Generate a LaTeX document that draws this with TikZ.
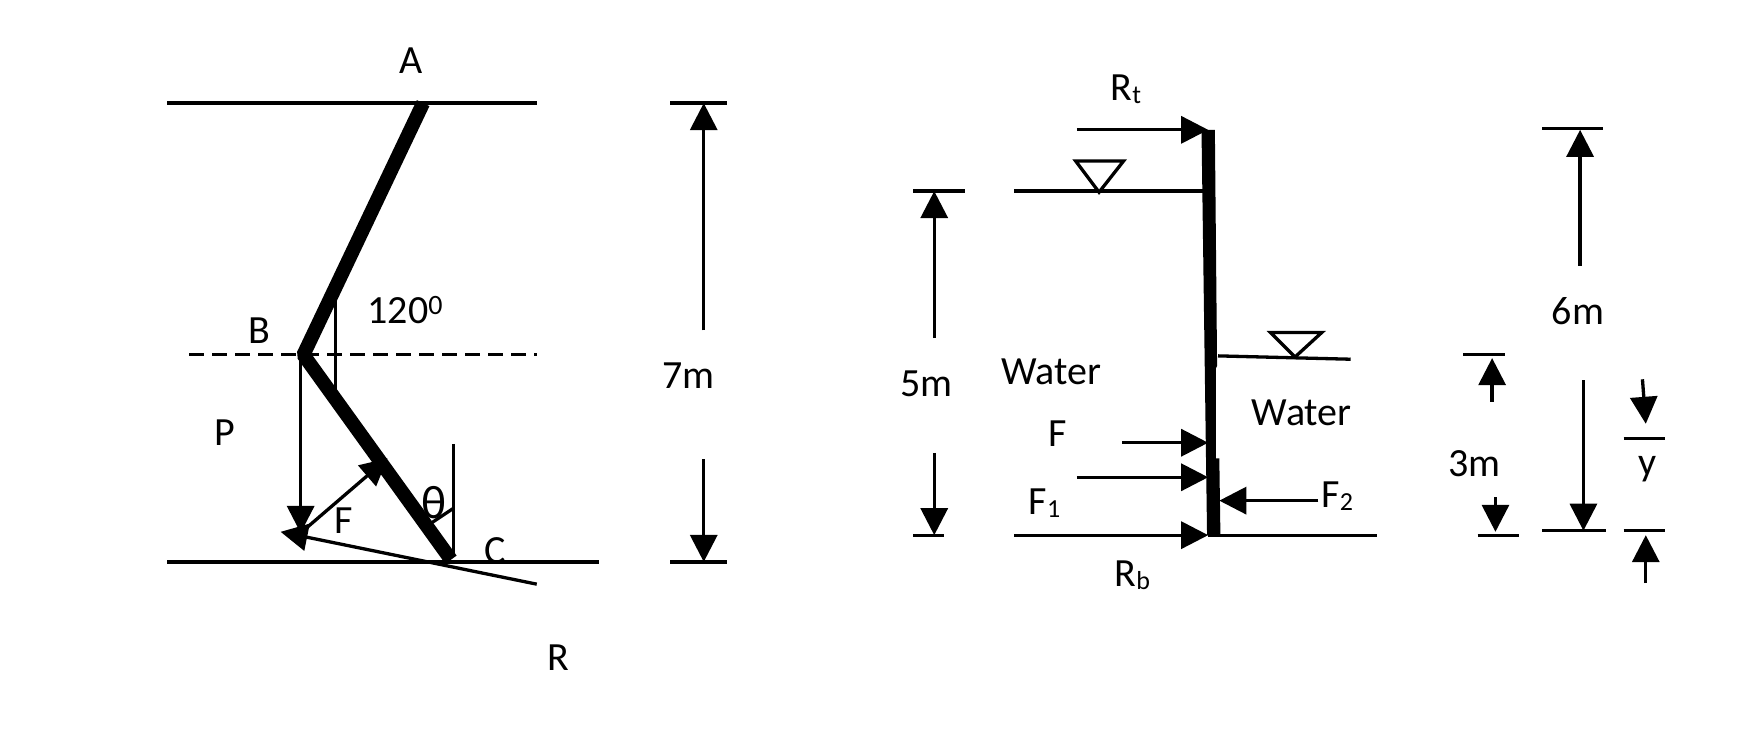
\documentclass[tikz,border=0pt]{standalone}
\usepackage{fontspec}
\setmainfont{Carlito}
\usetikzlibrary{arrows.meta}
\newcommand{\lowsub}[1]{\raisebox{-3pt}{\fontsize{26}{26}\selectfont #1}}
\tikzset{
    labelText/.style={inner sep=0pt, font=\fontsize{40}{42}\selectfont},
    thinLine/.style={draw, line width=3.3pt},
    forceArrow/.style={thinLine, -{Triangle[length=27pt,width=27pt]}},
    thickMember/.style={draw, line width=14pt, line join=bevel},
    levelMark/.style={draw, line width=3.3pt, fill=white, line join=miter}
}

\begin{document}
\begin{tikzpicture}[x=1.1135pt, y=-1.1135pt]
    \useasboundingbox (0,-0.6) rectangle (1568,672.9);

    % left sketch
    \coordinate (topL) at (150,92);
    \coordinate (topR) at (482,92);
    \coordinate (baseL) at (150,504);
    \coordinate (baseR) at (538,504);
    \coordinate (dashL) at (170,318);
    \coordinate (dashR) at (482,318);
    \coordinate (ptA) at (380,92);
    \coordinate (ptB) at (272.5,318);
    \coordinate (ptC) at (405,502);
    \coordinate (load) at (270,478);
    \coordinate (wallF) at (348,411);
    \coordinate (reactEnd) at (482,524);
    \coordinate (reactTip) at (252,477);
    \coordinate (panelTop) at (301,265);
    \coordinate (panelBot) at (301,353);
    \coordinate (normalTop) at (407,398);
    \coordinate (normalBot) at (407,500);
    \coordinate (angleR) at (407,456);
    \coordinate (angleL) at (386,470);

    \node [labelText] (labelA) at (369,54) {A};
    \node [labelText] (labelB) at (233,296) {B};
    \node [labelText] (labelC) at (445,494) {C};
    \node [labelText] (labelP) at (202,388) {P};
    \node [labelText] (labelF) at (309,467) {F};
    \node [labelText] (labelR) at (501,590) {R};
    \node [labelText, font=\fontsize{47}{48}\selectfont] (labelTheta) at (390,451) {θ};
    \node [labelText] (labelAngle) at (364,278) {120\textsuperscript{0}};

    \draw [thinLine] (topL) -- (topR);
    \draw [thinLine] (baseL) -- (baseR);
    \draw [thinLine, dash pattern=on 15pt off 8pt] (dashL) -- (dashR);
    \draw [thinLine] (panelTop) -- (panelBot);
    \draw [thinLine] (normalTop) -- (normalBot);
    \draw [thinLine] (angleR) -- (angleL);
    \draw [forceArrow] (270,318) -- (load);
    \draw [forceArrow] (load) -- (wallF);
    \draw [forceArrow] (reactEnd) -- (reactTip);
    \draw [thickMember] (ptA) -- (ptB) -- (ptC);

    % 7m dimension
    \coordinate (sevenTopL) at (602,92);
    \coordinate (sevenTopR) at (653,92);
    \coordinate (sevenBotL) at (602,504);
    \coordinate (sevenBotR) at (653,504);
    \node [labelText] (sevenM) at (618,337) {7m};
    \draw [thinLine] (sevenTopL) -- (sevenTopR);
    \draw [thinLine] (sevenBotL) -- (sevenBotR);
    \draw [forceArrow] (632,296) -- (632,92);
    \draw [forceArrow] (632,412) -- (632,504);

    % wall with water on both sides
    \coordinate (wallTL) at (1079,116);
    \coordinate (wallTR) at (1091,116);
    \coordinate (wallMR) at (1093,328);
    \coordinate (wallSR) at (1092,330);
    \coordinate (wallLR) at (1092,411);
    \coordinate (wallKR) at (1095,411);
    \coordinate (wallBR) at (1096,480);
    \coordinate (wallBL) at (1084,480);
    \fill (wallTL) -- (wallTR) -- (wallMR) -- (wallSR) -- (wallLR) -- (wallKR) -- (wallBR) -- (wallBL) -- cycle;

    \coordinate (levelL) at (911,171);
    \coordinate (levelLEnd) at (1082,171);
    \coordinate (levelR) at (1094,319);
    \coordinate (levelREnd) at (1213,322);
    \coordinate (floorL) at (911,480);
    \coordinate (floorM) at (1085,480);
    \coordinate (floorR) at (1237,480);

    \draw [thinLine] (levelL) -- (levelLEnd);
    \draw [thinLine] (levelR) -- (levelREnd);
    \draw [levelMark] (966,144) -- (1009,144) -- (987,172) -- cycle;
    \draw [levelMark] (1141,298) -- (1187,298) -- (1163,320) -- cycle;
    \draw [thinLine] (floorM) -- (floorR);
    \draw [forceArrow] (floorL) -- (floorM);
    \draw [forceArrow] (967,116) -- (1085,116);
    \draw [forceArrow] (1008,397) -- (1085,397);
    \draw [forceArrow] (967,428) -- (1085,428);
    \draw [forceArrow] (1184,449) -- (1095,449);

    \node [labelText] (labelRt) at (1011,80) {R\lowsub{t}};
    \node [labelText] (labelRb) at (1017,516) {R\lowsub{b}};
    \node [labelText] (waterL) at (944,333) {Water};
    \node [labelText] (waterR) at (1169,370) {Water};
    \node [labelText] (labelFw) at (950,389) {F};
    \node [labelText] (labelFa) at (938,451) {F\lowsub{1}};
    \node [labelText] (labelFb) at (1201,445) {F\lowsub{2}};

    % 5m dimension
    \node [labelText] (fiveM) at (832,344) {5m};
    \draw [thinLine] (820,171) -- (867,171);
    \draw [thinLine] (820,480) -- (848,480);
    \draw [forceArrow] (839,303) -- (839,171);
    \draw [forceArrow] (839,406) -- (839,480);

    % 6m dimension
    \node [labelText] (sixM) at (1417,279) {6m};
    \draw [thinLine] (1385,115) -- (1440,115);
    \draw [thinLine] (1385,476) -- (1442,476);
    \draw [forceArrow] (1419,238) -- (1419,116);
    \draw [forceArrow] (1422,341) -- (1422,476);

    % 3m dimension
    \node [labelText] (threeM) at (1324,416) {3m};
    \draw [thinLine] (1314,318) -- (1352,318);
    \draw [thinLine] (1327,480) -- (1364,480);
    \draw [forceArrow] (1340,360) -- (1340,321);
    \draw [forceArrow] (1343,446) -- (1343,477);

    % y dimension
    \node [labelText] (labelY) at (1480,421) {y};
    \draw [thinLine] (1458,393) -- (1495,393);
    \draw [thinLine] (1458,476) -- (1495,476);
    \draw [forceArrow] (1475,340) -- (1478,380);
    \draw [forceArrow] (1478,523) -- (1478,480);
\end{tikzpicture}
\end{document}
